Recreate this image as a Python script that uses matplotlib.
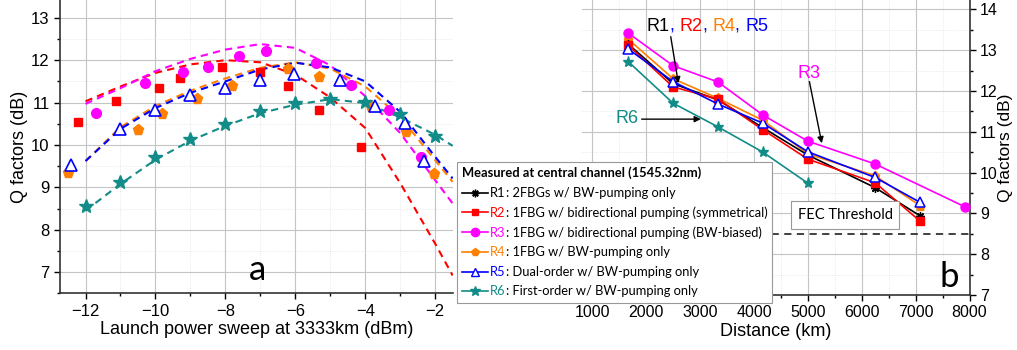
import matplotlib
matplotlib.use("Agg")
import matplotlib.pyplot as plt
from matplotlib.ticker import MultipleLocator
from matplotlib.lines import Line2D
from matplotlib.offsetbox import (AnchoredOffsetbox, AnnotationBbox, DrawingArea,
                                  HPacker, TextArea, VPacker)

plt.rcParams['font.family'] = ['Liberation Sans', 'DejaVu Sans']

# ---- colours / series names
colors = ['black', '#FF0000', '#FF00FF', '#FF8000', '#0000FF', '#128C88']
names = ['R1', 'R2', 'R3', 'R4', 'R5', 'R6']
descr = [': 2FBGs w/ BW-pumping only',
         ': 1FBG w/ bidirectional pumping (symmetrical)',
         ': 1FBG w/ bidirectional pumping (BW-biased)',
         ': 1FBG w/ BW-pumping only',
         ': Dual-order w/ BW-pumping only',
         ': First-order w/ BW-pumping only']
markers = [(8, 2, 0), 's', 'o', 'p', '^', '*']

# ---- panel a: launch power sweep (measured points)
a_r2_x = [-12.21, -11.13, -9.91, -9.31, -8.10, -7.01, -6.21, -5.33, -4.13]
a_r2_q = [10.54, 11.04, 11.35, 11.57, 11.85, 11.71, 11.40, 10.83, 9.95]
a_r3_x = [-11.71, -10.31, -9.22, -8.51, -7.62, -6.83, -5.41, -4.42, -3.33, -2.41]
a_r3_q = [10.76, 11.47, 11.71, 11.85, 12.10, 12.21, 11.93, 11.42, 10.83, 9.72]
a_r4_x = [-12.51, -10.51, -9.80, -8.81, -7.81, -6.20, -5.33, -3.83, -2.83, -2.02]
a_r4_q = [9.35, 10.35, 10.74, 11.09, 11.40, 11.80, 11.61, 10.90, 10.30, 9.31]
a_r5_x = [-12.42, -11.01, -10.02, -9.02, -8.02, -7.02, -6.04, -4.73, -3.72, -2.85, -2.33]
a_r5_q = [9.53, 10.37, 10.83, 11.17, 11.35, 11.53, 11.68, 11.54, 10.92, 10.51, 9.61]
a_r6_x = [-12, -11, -10, -9, -8, -7, -6, -5, -4, -3, -2]
a_r6_q = [8.57, 9.13, 9.72, 10.14, 10.50, 10.80, 10.98, 11.09, 11.02, 10.72, 10.20]

# fitted curves
fit_x = [-12, -11, -10, -9, -8, -7, -6, -5, -4, -3, -2, -1.5]
fit_r2 = [11.03, 11.38, 11.70, 11.90, 12.00, 11.95, 11.66, 11.12, 10.40, 9.10, 7.67, 6.92]
fit_r3 = [10.97, 11.34, 11.74, 12.03, 12.25, 12.38, 12.29, 11.88, 11.15, 10.28, 9.17, 8.62]
fit_r4 = [9.62, 10.42, 10.92, 11.28, 11.57, 11.82, 11.95, 11.80, 11.38, 10.66, 9.64, 9.13]
fit_r5 = [9.62, 10.38, 10.87, 11.23, 11.50, 11.78, 11.94, 11.83, 11.50, 10.78, 9.72, 9.21]
fit_r6 = [8.45, 9.08, 9.65, 10.10, 10.45, 10.75, 10.95, 11.08, 10.99, 10.65, 10.24, 9.98]

# ---- panel b: Q factor vs distance
dist = [1667, 2500, 3333, 4167, 5000, 6250, 7083]
dist_r3 = [1667, 2500, 3333, 4167, 5000, 6250, 7917]
dist_r6 = [1667, 2500, 3333, 4167, 5000]
b_r1 = [13.15, 12.18, 11.78, 11.10, 10.43, 9.63, 8.94]
b_r2 = [13.12, 12.10, 11.80, 11.05, 10.33, 9.75, 8.81]
b_r3 = [13.42, 12.62, 12.22, 11.41, 10.77, 10.21, 9.16]
b_r4 = [13.27, 12.30, 11.82, 11.28, 10.46, 9.92, 9.19]
b_r5 = [13.03, 12.23, 11.68, 11.21, 10.51, 9.88, 9.27]
b_r6 = [12.72, 11.70, 11.12, 10.50, 9.74]
fec_threshold = 8.5

fig = plt.figure(figsize=(10.17, 3.5), dpi=100)
ax1 = fig.add_axes([60 / 1017, 1 - 293.3 / 350, 393 / 1017, 293.3 / 350])
ax2 = fig.add_axes([581.5 / 1017, 1 - 295 / 350, 388 / 1017, 295 / 350])


def style_grid(ax):
    ax.grid(True, which='major', color='#C4C4C4', lw=0.8)
    ax.grid(True, which='minor', color='#E2E2E2', lw=0.6, ls=':')
    ax.set_axisbelow(True)
    ax.tick_params(which='major', direction='out', length=4, width=1, labelsize=12)
    ax.tick_params(which='minor', direction='out', length=2.5, width=1)
    for s in ax.spines.values():
        s.set_linewidth(1.2)
        s.set_color('#333333')


# ---------------- panel a
dash = (0, (3.5, 2.5))
fits = [(fit_r2, 1), (fit_r3, 2), (fit_r4, 3), (fit_r5, 4), (fit_r6, 5)]
for fy, i in fits:
    ax1.plot(fit_x, fy, ls=dash, color=colors[i], lw=1.5, zorder=2)

ax1.plot(a_r2_x, a_r2_q, 's', color=colors[1], ms=6, zorder=3)
ax1.plot(a_r3_x, a_r3_q, 'o', color=colors[2], ms=7, zorder=3)
ax1.plot(a_r4_x, a_r4_q, 'p', color=colors[3], ms=8, zorder=3)
ax1.plot(a_r5_x, a_r5_q, '^', color=colors[4], mfc='white', mew=1.2, ms=8, zorder=3)
ax1.plot(a_r6_x, a_r6_q, '*', color=colors[5], ms=10, zorder=3)

ax1.set_xlim(-12.73, -1.49)
ax1.set_ylim(6.5, 13.42)
ax1.xaxis.set_major_locator(MultipleLocator(2))
ax1.xaxis.set_minor_locator(MultipleLocator(1))
ax1.yaxis.set_major_locator(MultipleLocator(1))
ax1.yaxis.set_minor_locator(MultipleLocator(0.5))
ax1.spines['top'].set_visible(False)
ax1.spines['right'].set_visible(False)
style_grid(ax1)
ax1.set_xlabel('Launch power sweep at 3333km (dBm)', fontsize=13, labelpad=2)
ax1.set_ylabel('Q factors (dB)', fontsize=13, labelpad=2)
ax1.text(-7.07, 7.05, 'a', fontsize=25, family='Lato', ha='center', va='center')

# ---------------- panel b
b_x = [dist, dist, dist_r3, dist, dist, dist_r6]
b_y = [b_r1, b_r2, b_r3, b_r4, b_r5, b_r6]
ms_b = [6, 5.5, 6.5, 6.5, 6.5, 8]
for i in [3, 0, 1, 4, 2, 5]:
    kw = dict(mfc='white', mew=1.1) if i == 4 else {}
    ax2.plot(b_x[i], b_y[i], color=colors[i], marker=markers[i], ms=ms_b[i],
             lw=1.2, zorder=3, **kw)

ax2.axhline(fec_threshold, color='#333333', ls=(0, (4, 3)), lw=1.3, zorder=2)
ax2.text(5692, 8.96, 'FEC Threshold', family='Lato', fontsize=10.5,
         ha='center', va='center', zorder=5,
         bbox=dict(boxstyle='square,pad=0.45', fc='white', ec='#999999', lw=0.8))

ax2.set_xlim(800, 8000)
ax2.set_ylim(7, 14.23)
ax2.xaxis.set_major_locator(MultipleLocator(1000))
ax2.xaxis.set_minor_locator(MultipleLocator(500))
ax2.yaxis.set_major_locator(MultipleLocator(1))
ax2.yaxis.set_minor_locator(MultipleLocator(0.5))
ax2.yaxis.tick_right()
ax2.yaxis.set_label_position('right')
ax2.spines['top'].set_visible(False)
ax2.spines['left'].set_visible(False)
style_grid(ax2)
ax2.tick_params(labelsize=11.5)
ax2.set_xlabel('Distance (km)', fontsize=13, labelpad=2)
ax2.set_ylabel('Q factors (dB)', fontsize=12.5, labelpad=0)
ax2.text(7623, 7.45, 'b', fontsize=25, family='Lato', ha='center', va='center')

# labels with arrows
lab_fs = 13
parts = [('R1', colors[0]), (', ', colors[4]), ('R2', colors[1]), (', ', colors[4]),
         ('R4', colors[3]), (', ', colors[4]), ('R5', colors[4])]
hb = HPacker(children=[TextArea(t, textprops=dict(color=c, fontsize=lab_fs)) for t, c in parts],
             sep=0, pad=0, align='baseline')
ax2.add_artist(AnnotationBbox(hb, (2010, 13.59), box_alignment=(0, 0.5),
                              frameon=False, pad=0, zorder=6))
arrow = dict(arrowstyle='-|>', color='black', lw=1.0, mutation_scale=9, shrinkA=0, shrinkB=0)
ax2.annotate('', xy=(2597, 12.19), xytext=(2456, 13.33), arrowprops=arrow, zorder=6)
ax2.text(5023, 12.43, 'R3', color=colors[2], fontsize=lab_fs, ha='center', va='center')
ax2.annotate('', xy=(5259, 10.72), xytext=(5029, 12.23), arrowprops=arrow, zorder=6)
ax2.text(1644, 11.33, 'R6', color=colors[5], fontsize=lab_fs, ha='center', va='center')
ax2.annotate('', xy=(3013, 11.31), xytext=(1917, 11.31), arrowprops=arrow, zorder=6)

# legend with coloured series names
leg_fs = 9.3
rows = [TextArea('Measured at central channel (1545.32nm)',
                 textprops=dict(fontsize=leg_fs, family='Lato', weight='bold'))]
for i in range(6):
    da = DrawingArea(19, 9, 0, 0)
    da.add_artist(Line2D([0, 19], [4.5, 4.5], color=colors[i], lw=1.2))
    kw = dict(mfc='white', mew=1.0) if i == 4 else {}
    da.add_artist(Line2D([9.5], [4.5], color=colors[i], marker=markers[i],
                         ms=ms_b[i] - 0.5, **kw))
    label = HPacker(children=[
        TextArea(names[i], textprops=dict(fontsize=leg_fs, family='Lato', color=colors[i])),
        TextArea(descr[i], textprops=dict(fontsize=leg_fs, family='Lato', color='black'))],
        sep=0, pad=0, align='baseline')
    rows.append(HPacker(children=[da, label], sep=1.5, pad=0, align='center'))
vb = VPacker(children=rows, sep=5.2, pad=0, align='left')
leg = AnchoredOffsetbox(loc='upper left', child=vb, pad=0.35, borderpad=0, frameon=True,
                        bbox_to_anchor=(457 / 1017, 1 - 161.7 / 350),
                        bbox_transform=fig.transFigure)
leg.patch.set_boxstyle('square', pad=0)
leg.patch.set_edgecolor('#999999')
leg.patch.set_facecolor('white')
leg.patch.set_linewidth(0.8)
leg.set_zorder(10)
ax2.add_artist(leg)

fig.savefig('out.png', dpi=100)
